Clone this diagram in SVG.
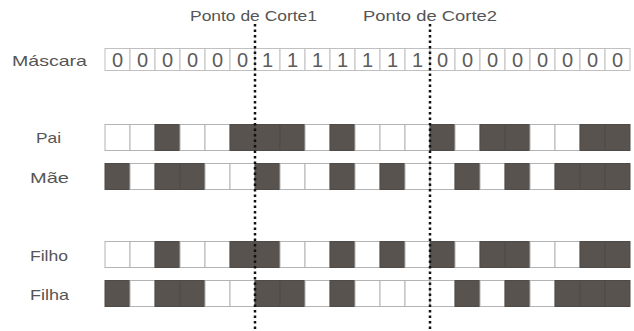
<svg xmlns="http://www.w3.org/2000/svg" width="634" height="331" viewBox="0 0 634 331">
<style>
.lbl{font-family:"Liberation Sans",Arial,sans-serif;font-size:15px;fill:#555}
.dig{font-family:"Liberation Sans",Arial,sans-serif;font-size:20px;fill:#5c5c5c;text-anchor:middle}
.w{fill:#fff;stroke:#b4b4b4;stroke-width:1}
.d{fill:#58534f;stroke:#4e4a47;stroke-width:1}
.m{fill:#fff;stroke:#c0c0c0;stroke-width:1}
.cut{stroke:#111;stroke-width:2.5;stroke-dasharray:2.5 3;fill:none}
</style>
<defs>
<rect id="W" class="w" width="25" height="26"/>
<rect id="D" class="d" width="25" height="26"/>
<rect id="M" class="m" width="25" height="22"/>
</defs>
<g id="title1"><text class="lbl" x="190" y="21" textLength="127" lengthAdjust="spacingAndGlyphs">Ponto de Corte1</text></g>
<g id="title2"><text class="lbl" x="363" y="21" textLength="134" lengthAdjust="spacingAndGlyphs">Ponto de Corte2</text></g>
<g id="mascara">
<text class="lbl" x="12" y="66" textLength="75" lengthAdjust="spacingAndGlyphs">Máscara</text>
<use href="#M" x="105" y="48.5"/><use href="#M" x="130" y="48.5"/><use href="#M" x="155" y="48.5"/><use href="#M" x="180" y="48.5"/><use href="#M" x="205" y="48.5"/><use href="#M" x="230" y="48.5"/><use href="#M" x="255" y="48.5"/><use href="#M" x="280" y="48.5"/><use href="#M" x="305" y="48.5"/><use href="#M" x="330" y="48.5"/><use href="#M" x="355" y="48.5"/><use href="#M" x="380" y="48.5"/><use href="#M" x="405" y="48.5"/><use href="#M" x="430" y="48.5"/><use href="#M" x="455" y="48.5"/><use href="#M" x="480" y="48.5"/><use href="#M" x="505" y="48.5"/><use href="#M" x="530" y="48.5"/><use href="#M" x="555" y="48.5"/><use href="#M" x="580" y="48.5"/><use href="#M" x="605" y="48.5"/>
<text class="dig" x="117.5" y="67">0</text><text class="dig" x="142.5" y="67">0</text><text class="dig" x="167.5" y="67">0</text><text class="dig" x="192.5" y="67">0</text><text class="dig" x="217.5" y="67">0</text><text class="dig" x="242.5" y="67">0</text>
<text class="dig" x="267.5" y="67">1</text><text class="dig" x="292.5" y="67">1</text><text class="dig" x="317.5" y="67">1</text><text class="dig" x="342.5" y="67">1</text><text class="dig" x="367.5" y="67">1</text><text class="dig" x="392.5" y="67">1</text><text class="dig" x="417.5" y="67">1</text>
<text class="dig" x="442.5" y="67">0</text><text class="dig" x="467.5" y="67">0</text><text class="dig" x="492.5" y="67">0</text><text class="dig" x="517.5" y="67">0</text><text class="dig" x="542.5" y="67">0</text><text class="dig" x="567.5" y="67">0</text><text class="dig" x="592.5" y="67">0</text><text class="dig" x="617.5" y="67">0</text>
</g>
<g id="pai">
<text class="lbl" x="36" y="143" textLength="25" lengthAdjust="spacingAndGlyphs">Pai</text>
<use href="#W" x="105" y="124.5"/><use href="#W" x="130" y="124.5"/><use href="#D" x="155" y="124.5"/><use href="#W" x="180" y="124.5"/><use href="#W" x="205" y="124.5"/><use href="#D" x="230" y="124.5"/><use href="#D" x="255" y="124.5"/><use href="#D" x="280" y="124.5"/><use href="#W" x="305" y="124.5"/><use href="#D" x="330" y="124.5"/><use href="#W" x="355" y="124.5"/><use href="#W" x="380" y="124.5"/><use href="#W" x="405" y="124.5"/><use href="#D" x="430" y="124.5"/><use href="#W" x="455" y="124.5"/><use href="#D" x="480" y="124.5"/><use href="#D" x="505" y="124.5"/><use href="#W" x="530" y="124.5"/><use href="#W" x="555" y="124.5"/><use href="#D" x="580" y="124.5"/><use href="#D" x="605" y="124.5"/>
</g>
<g id="mae">
<text class="lbl" x="30" y="183" textLength="39" lengthAdjust="spacingAndGlyphs">Mãe</text>
<use href="#D" x="105" y="163.5"/><use href="#W" x="130" y="163.5"/><use href="#D" x="155" y="163.5"/><use href="#D" x="180" y="163.5"/><use href="#W" x="205" y="163.5"/><use href="#W" x="230" y="163.5"/><use href="#D" x="255" y="163.5"/><use href="#W" x="280" y="163.5"/><use href="#W" x="305" y="163.5"/><use href="#D" x="330" y="163.5"/><use href="#W" x="355" y="163.5"/><use href="#D" x="380" y="163.5"/><use href="#W" x="405" y="163.5"/><use href="#W" x="430" y="163.5"/><use href="#D" x="455" y="163.5"/><use href="#W" x="480" y="163.5"/><use href="#D" x="505" y="163.5"/><use href="#W" x="530" y="163.5"/><use href="#D" x="555" y="163.5"/><use href="#D" x="580" y="163.5"/><use href="#D" x="605" y="163.5"/>
</g>
<g id="filho">
<text class="lbl" x="30" y="261" textLength="38" lengthAdjust="spacingAndGlyphs">Filho</text>
<use href="#W" x="105" y="241.5"/><use href="#W" x="130" y="241.5"/><use href="#D" x="155" y="241.5"/><use href="#W" x="180" y="241.5"/><use href="#W" x="205" y="241.5"/><use href="#D" x="230" y="241.5"/><use href="#D" x="255" y="241.5"/><use href="#W" x="280" y="241.5"/><use href="#W" x="305" y="241.5"/><use href="#D" x="330" y="241.5"/><use href="#W" x="355" y="241.5"/><use href="#D" x="380" y="241.5"/><use href="#W" x="405" y="241.5"/><use href="#D" x="430" y="241.5"/><use href="#W" x="455" y="241.5"/><use href="#D" x="480" y="241.5"/><use href="#D" x="505" y="241.5"/><use href="#W" x="530" y="241.5"/><use href="#W" x="555" y="241.5"/><use href="#D" x="580" y="241.5"/><use href="#D" x="605" y="241.5"/>
</g>
<g id="filha">
<text class="lbl" x="30" y="300" textLength="39" lengthAdjust="spacingAndGlyphs">Filha</text>
<use href="#D" x="105" y="280.5"/><use href="#W" x="130" y="280.5"/><use href="#D" x="155" y="280.5"/><use href="#D" x="180" y="280.5"/><use href="#W" x="205" y="280.5"/><use href="#W" x="230" y="280.5"/><use href="#D" x="255" y="280.5"/><use href="#D" x="280" y="280.5"/><use href="#W" x="305" y="280.5"/><use href="#D" x="330" y="280.5"/><use href="#W" x="355" y="280.5"/><use href="#W" x="380" y="280.5"/><use href="#W" x="405" y="280.5"/><use href="#W" x="430" y="280.5"/><use href="#D" x="455" y="280.5"/><use href="#W" x="480" y="280.5"/><use href="#D" x="505" y="280.5"/><use href="#W" x="530" y="280.5"/><use href="#D" x="555" y="280.5"/><use href="#D" x="580" y="280.5"/><use href="#D" x="605" y="280.5"/>
</g>
<g id="connectors">
<line class="cut" x1="255" y1="24" x2="255" y2="331"/>
<line class="cut" x1="430" y1="24" x2="430" y2="331"/>
</g>
</svg>
